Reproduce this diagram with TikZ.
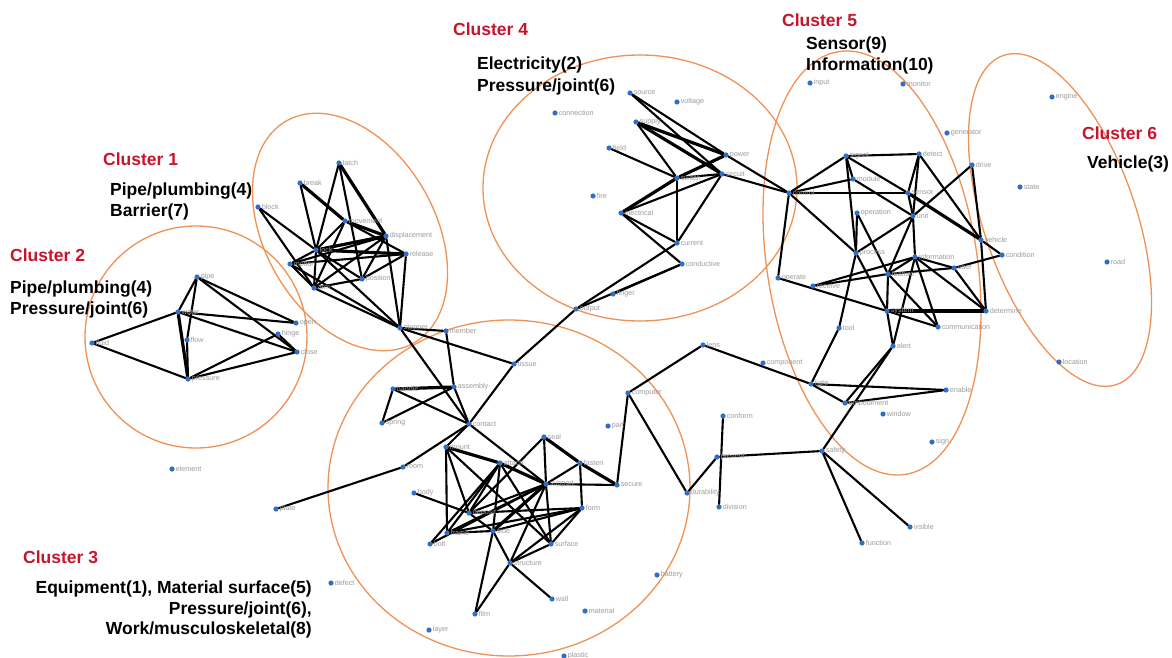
\documentclass[tikz,border=0pt]{standalone}
\usepackage{fontspec}
\setmainfont{Liberation Sans}
\usetikzlibrary{backgrounds}
\pgfdeclarelayer{paper}
\pgfsetlayers{paper,background,main}
\definecolor{clred}{RGB}{200,20,45}
\definecolor{ringc}{RGB}{240,145,85}
\definecolor{dotc}{RGB}{50,110,200}
\definecolor{lblc}{RGB}{155,155,155}
% one term of the network: name, x, y, printed word
\newcommand\vtx[4]{\node[dot,label={[lbl]right:#4}] (#1) at (#2,#3) {};}
\begin{document}
\begin{tikzpicture}[x=1pt,y=-1pt,
  dot/.style={circle,fill=dotc,inner sep=0pt,minimum size=5.2pt},
  lbl/.style={text=lblc,font=\fontsize{7.2}{8}\selectfont,inner sep=0.8pt},
  link/.style={line width=2.1pt,line cap=round},
  heavy/.style={line width=3.2pt,line cap=round},
  ring/.style={draw=ringc,line width=1.3pt},
  ctitle/.style={text=clred,font=\fontsize{17.5}{20}\selectfont\bfseries,inner sep=0pt},
  ctheme/.style={text=black,font=\fontsize{17.5}{20}\selectfont\bfseries,inner sep=0pt}]
\begin{pgfonlayer}{paper}
  \fill[white] (0,0) rectangle (1172,658);
\end{pgfonlayer}
\useasboundingbox (0,0) rectangle (1172,658);

% ---- cluster 2
\vtx{pipe}{197}{277}{pipe}
\vtx{water}{178}{312}{water}
\vtx{flow}{187}{340}{flow}
\vtx{fluid}{92}{343}{fluid}
\vtx{cpress}{188}{379}{pressure}
\vtx{open}{296}{323}{open}
\vtx{hinge}{278}{334}{hinge}
\vtx{close}{297}{352}{close}
% ---- cluster 1
\vtx{block}{258}{207}{block}
\vtx{brk}{300}{183}{break}
\vtx{latch}{339}{163}{latch}
\vtx{movement}{345}{221}{movement}
\vtx{displace}{386}{236}{displacement}
\vtx{release}{406}{254}{release}
\vtx{lock}{316}{250}{lock}
\vtx{motion}{290}{264}{motion}
\vtx{position}{362}{279}{position}
\vtx{arm}{314}{288}{arm}
\vtx{stopper}{400}{328}{stopper}
\vtx{member}{446}{331}{member}
% ---- cluster 4
\vtx{source}{630}{93}{source}
\vtx{voltage}{677}{102}{voltage}
\vtx{connection}{555}{113}{connection}
\vtx{supply}{636}{122}{supply}
\vtx{field}{609}{148}{field}
\vtx{power}{726}{155}{power}
\vtx{switch}{677}{178}{switch}
\vtx{circuit}{722}{174}{circuit}
\vtx{fire}{593}{196}{fire}
\vtx{electrical}{621}{213}{electrical}
\vtx{current}{677}{243}{current}
\vtx{conductive}{682}{264}{conductive}
\vtx{finger}{613}{294}{finger}
\vtx{output}{576}{309}{output}
% ---- cluster 3
\vtx{handle}{393}{389}{handle}
\vtx{assembly}{454}{387}{assembly}
\vtx{spring}{382}{423}{spring}
\vtx{contact}{469}{424}{contact}
\vtx{tissue}{514}{364}{tissue}
\vtx{mount}{446}{447}{mount}
\vtx{room}{403}{467}{room}
\vtx{body}{414}{493}{body}
\vtx{plate}{276}{509}{plate}
\vtx{attach}{500}{463}{attach}
\vtx{seal}{544}{437}{seal}
\vtx{fasten}{580}{463}{fasten}
\vtx{support}{546}{484}{support}
\vtx{secure}{617}{485}{secure}
\vtx{part}{608}{426}{part}
\vtx{deposit}{469}{513}{deposit}
\vtx{form}{582}{508}{form}
\vtx{side}{493}{531}{side}
\vtx{frame}{447}{533}{frame}
\vtx{bolt}{430}{544}{bolt}
\vtx{surface}{551}{544}{surface}
\vtx{structure}{510}{563}{structure}
\vtx{battery}{657}{575}{battery}
\vtx{wall}{552}{599}{wall}
\vtx{material}{585}{611}{material}
\vtx{film}{475}{614}{film}
\vtx{layer}{429}{630}{layer}
\vtx{plastic}{564}{656}{plastic}
\vtx{defect}{331}{583}{defect}
\vtx{element}{172}{469}{element}
% ---- between the clusters
\vtx{lens}{703}{345}{lens}
\vtx{component}{763}{363}{component}
\vtx{computer}{628}{393}{computer}
\vtx{conform}{723}{416}{conform}
\vtx{prevent}{717}{457}{prevent}
\vtx{durability}{687}{493}{durability}
\vtx{division}{719}{507}{division}
\vtx{safety}{822}{451}{safety}
\vtx{light}{811}{384}{light}
\vtx{embodiment}{845}{403}{embodiment}
\vtx{window}{883}{414}{window}
\vtx{enable}{946}{390}{enable}
\vtx{sign}{932}{442}{sign}
\vtx{visible}{910}{527}{visible}
\vtx{function}{862}{543}{function}
% ---- cluster 5
\vtx{input}{810}{83}{input}
\vtx{monitor}{903}{84}{monitor}
\vtx{generator}{947}{133}{generator}
\vtx{signal}{846}{156}{signal}
\vtx{detect}{919}{154}{detect}
\vtx{drive}{972}{165}{drive}
\vtx{control}{789}{193}{control}
\vtx{module}{853}{179}{module}
\vtx{sensor}{908}{193}{sensor}
\vtx{operation}{857}{213}{operation}
\vtx{unit}{913}{216}{unit}
\vtx{vehicle}{981}{240}{vehicle}
\vtx{condition}{1002}{255}{condition}
\vtx{process}{856}{253}{process}
\vtx{information}{915}{257}{information}
\vtx{feature}{888}{274}{feature}
\vtx{user}{954}{268}{user}
\vtx{operate}{778}{278}{operate}
\vtx{receive}{813}{286}{receive}
\vtx{system}{887}{311}{system}
\vtx{determine}{986}{311}{determine}
\vtx{tool}{839}{328}{tool}
\vtx{communication}{938}{327}{communication}
\vtx{alert}{893}{346}{alert}
% ---- cluster 6
\vtx{engine}{1052}{97}{engine}
\vtx{state}{1020}{187}{state}
\vtx{road}{1107}{262}{road}
\vtx{location}{1059}{362}{location}

\begin{pgfonlayer}{background}
  % cluster outlines
  \draw[ring] (196,337) circle[radius=111pt];
  \draw[ring,rotate around={30:(350,232)}] (350,232) ellipse[x radius=85pt,y radius=128pt];
  \draw[ring] (640,188) ellipse[x radius=157pt,y radius=133pt];
  \draw[ring] (509,488) ellipse[x radius=181pt,y radius=168pt];
  \draw[ring,rotate around={9:(872,263)}] (872,263) ellipse[x radius=105pt,y radius=214pt];
  \draw[ring,rotate around={19:(1060,220)}] (1060,220) ellipse[x radius=76pt,y radius=174pt];
  % co-occurrence links
  \foreach \a/\b in {pipe/water,pipe/flow,pipe/open,pipe/close,water/fluid,water/open,
      water/close,fluid/cpress,flow/cpress,cpress/hinge,cpress/close,hinge/close,
      latch/lock,latch/position,brk/lock,block/lock,block/arm,movement/lock,
      movement/release,movement/arm,lock/motion,lock/position,lock/stopper,
      motion/displace,motion/release,motion/arm,motion/stopper,arm/position,
      arm/displace,arm/stopper,position/displace,position/release,release/stopper,
      displace/stopper,stopper/member,lock/arm,
      stopper/contact,member/assembly,stopper/tissue,
      handle/spring,handle/contact,spring/assembly,assembly/contact,contact/tissue,
      tissue/output,contact/room,room/plate,contact/mount,contact/support,
      mount/frame,mount/deposit,mount/surface,attach/deposit,attach/frame,
      attach/surface,attach/side,seal/support,seal/deposit,fasten/support,fasten/form,
      support/deposit,support/frame,support/bolt,support/structure,support/surface,
      support/secure,form/deposit,form/side,form/structure,form/surface,form/frame,
      body/deposit,deposit/side,frame/side,side/film,side/structure,surface/structure,
      structure/wall,structure/film,bolt/attach,secure/computer,
      source/power,source/circuit,supply/switch,field/switch,switch/circuit,
      switch/current,electrical/circuit,electrical/current,electrical/conductive,
      circuit/current,current/output,conductive/output,finger/conductive,
      power/control,circuit/control,
      signal/control,signal/detect,signal/module,signal/sensor,signal/process,
      control/sensor,control/operate,control/process,control/module,detect/sensor,
      detect/unit,detect/vehicle,drive/vehicle,drive/unit,sensor/unit,module/unit,
      operation/feature,operation/process,unit/process,unit/information,unit/feature,
      information/feature,information/user,information/determine,
      information/communication,feature/receive,feature/user,feature/communication,
      process/system,feature/system,operate/system,receive/information,user/condition,
      vehicle/condition,vehicle/determine,system/alert,tool/process,alert/information,
      user/determine,communication/system,
      tool/light,alert/embodiment,alert/safety,light/enable,light/embodiment,
      lens/light,lens/computer,safety/prevent,safety/visible,safety/function,
      conform/division,prevent/durability,computer/durability,enable/embodiment}
    \draw[link] (\a) -- (\b);
  \foreach \a/\b in {water/cpress,latch/displace,brk/movement,movement/displace,
      lock/displace,lock/release,handle/assembly,mount/attach,attach/support,
      seal/fasten,fasten/secure,support/side,supply/power,supply/circuit,
      switch/power,switch/electrical,sensor/vehicle,system/determine}
    \draw[heavy] (\a) -- (\b);
\end{pgfonlayer}

% ---- cluster captions
\node[ctitle,anchor=west] (t1) at (103,159) {Cluster 1};
\node[ctheme,anchor=west] (t1a) at (110,191) {Pipe/plumbing(4)};
\node[ctheme,anchor=west] (t1b) at (110,212) {Barrier(7)};
\node[ctitle,anchor=west] (t2) at (10,255) {Cluster 2};
\node[ctheme,anchor=west] (t2a) at (10,289) {Pipe/plumbing(4)};
\node[ctheme,anchor=west] (t2b) at (10,310) {Pressure/joint(6)};
\node[ctitle,anchor=west] (t3) at (23,557) {Cluster 3};
\node[ctheme,anchor=east] (t3a) at (312,589) {Equipment(1), Material surface(5)};
\node[ctheme,anchor=east] (t3b) at (312,610) {Pressure/joint(6),};
\node[ctheme,anchor=east] (t3c) at (312,630) {Work/musculoskeletal(8)};
\node[ctitle,anchor=west] (t4) at (453,29) {Cluster 4};
\node[ctheme,anchor=west] (t4a) at (477,65) {Electricity(2)};
\node[ctheme,anchor=west] (t4b) at (477,87) {Pressure/joint(6)};
\node[ctitle,anchor=west] (t5) at (782,20) {Cluster 5};
\node[ctheme,anchor=west] (t5a) at (806,45) {Sensor(9)};
\node[ctheme,anchor=west] (t5b) at (806,66) {Information(10)};
\node[ctitle,anchor=west] (t6) at (1082,133) {Cluster 6};
\node[ctheme,anchor=west] (t6a) at (1087,164) {Vehicle(3)};
\end{tikzpicture}
\end{document}
